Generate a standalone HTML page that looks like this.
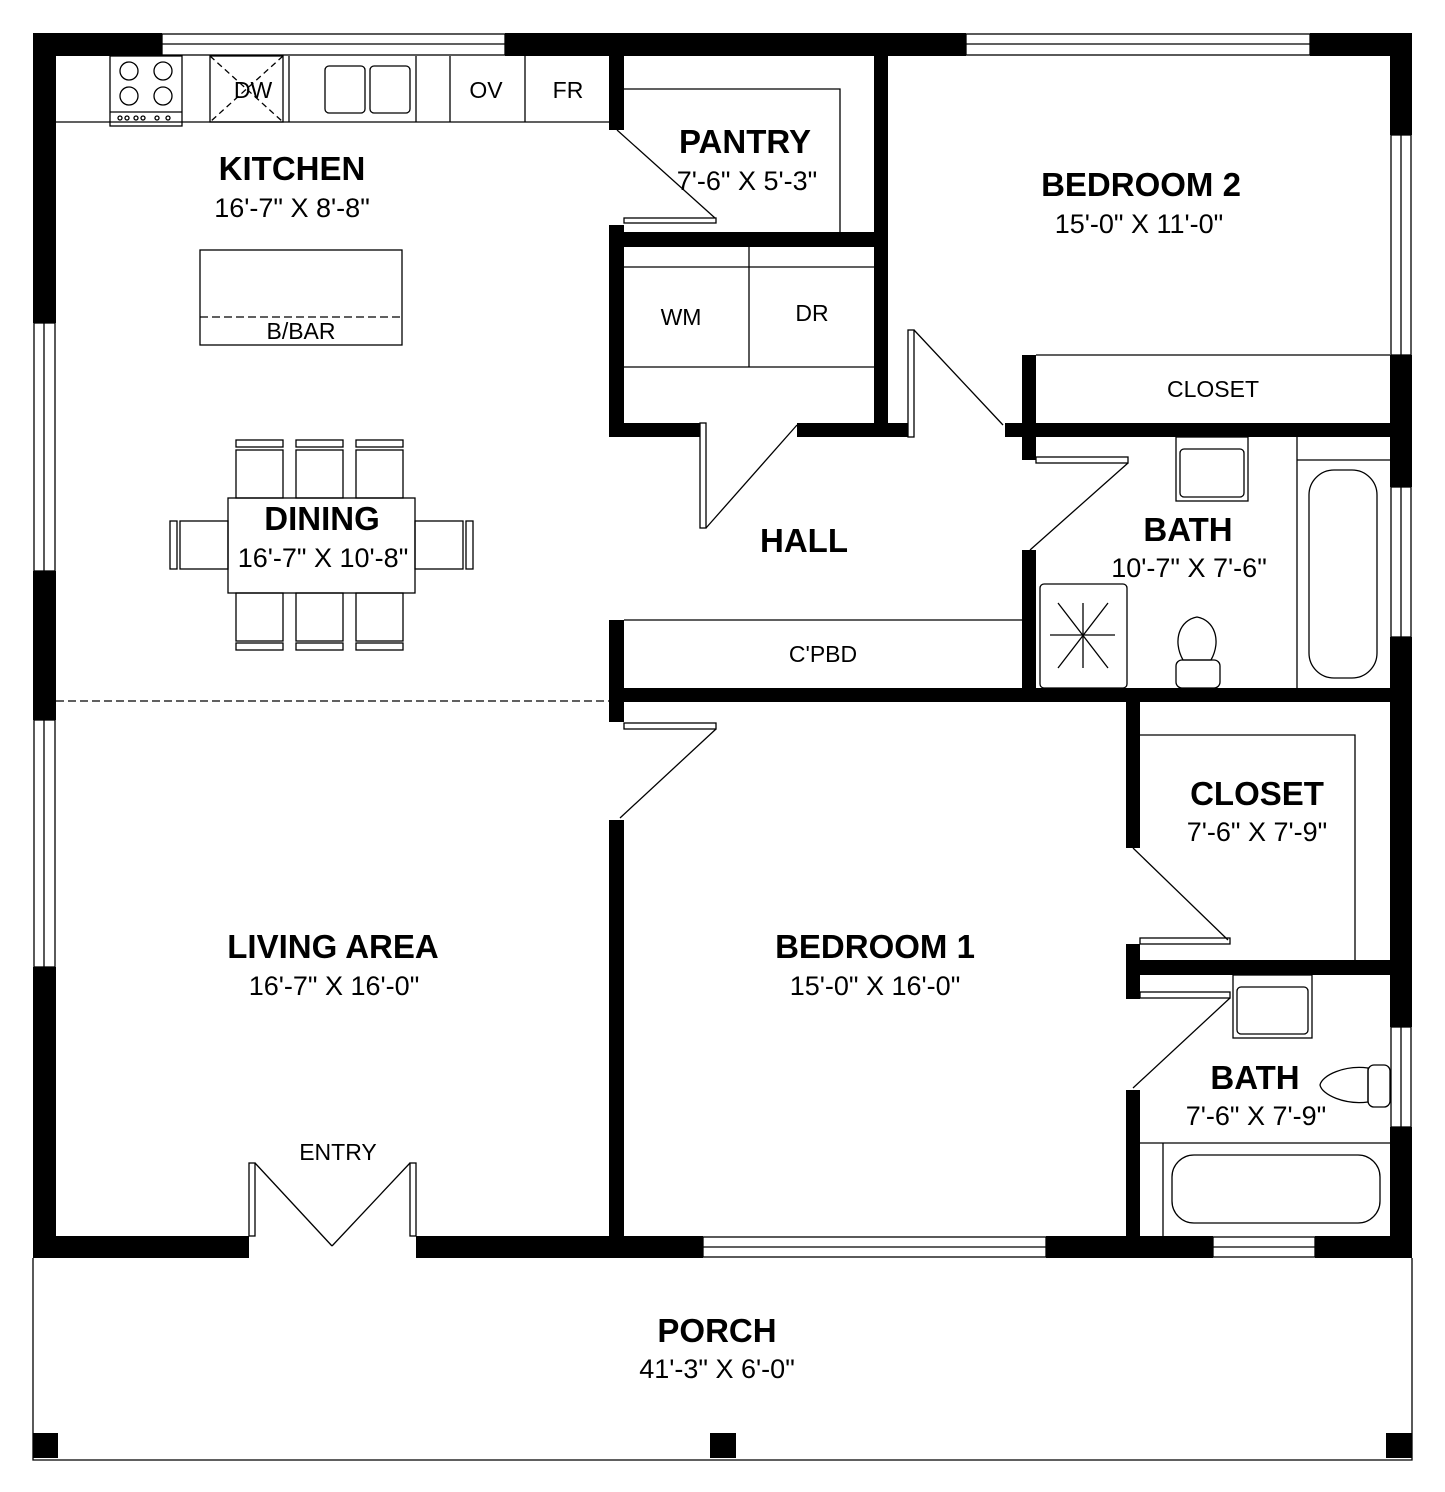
<!DOCTYPE html>
<html><head><meta charset="utf-8"><style>
html,body{margin:0;padding:0;background:#fff}
svg{display:block}
text{font-family:"Liberation Sans",Arial,sans-serif;fill:#000}
.b{font-weight:bold;font-size:33px}
.d{font-size:27px}
.s{font-size:23px}
</style></head><body>
<svg width="1445" height="1492" viewBox="0 0 1445 1492" xmlns="http://www.w3.org/2000/svg">
<g fill="#000">
<rect x="33" y="33" width="129" height="23"/>
<rect x="505" y="33" width="461" height="23"/>
<rect x="1310" y="33" width="102" height="23"/>
<rect x="33" y="33" width="23" height="290"/>
<rect x="33" y="571" width="23" height="149"/>
<rect x="33" y="967" width="23" height="291"/>
<rect x="1390" y="33" width="22" height="102"/>
<rect x="1390" y="355" width="22" height="132"/>
<rect x="1390" y="637" width="22" height="390"/>
<rect x="1390" y="1127" width="22" height="131"/>
<rect x="33" y="1236" width="216" height="22"/>
<rect x="416" y="1236" width="287" height="22"/>
<rect x="1046" y="1236" width="167" height="22"/>
<rect x="1315" y="1236" width="97" height="22"/>
<rect x="609" y="56" width="15" height="74"/>
<rect x="609" y="225" width="15" height="212"/>
<rect x="609" y="232" width="279" height="15"/>
<rect x="874" y="56" width="14" height="381"/>
<rect x="609" y="423" width="91" height="14"/>
<rect x="797" y="423" width="111" height="14"/>
<rect x="1022" y="355" width="14" height="105"/>
<rect x="1005" y="423" width="385" height="14"/>
<rect x="1022" y="550" width="14" height="152"/>
<rect x="609" y="688" width="781" height="14"/>
<rect x="609" y="620" width="15" height="82"/>
<rect x="609" y="700" width="15" height="22"/>
<rect x="609" y="820" width="15" height="438"/>
<rect x="1126" y="700" width="14" height="148"/>
<rect x="1126" y="944" width="14" height="55"/>
<rect x="1126" y="960" width="264" height="15"/>
<rect x="1126" y="1090" width="14" height="168"/>
<rect x="33" y="1433" width="25" height="25"/>
<rect x="710" y="1433" width="26" height="25"/>
<rect x="1386" y="1433" width="26" height="25"/>
</g>
<g fill="none" stroke="#000" stroke-width="1.3">
<rect x="162" y="34" width="343" height="21"/><line x1="162" y1="44" x2="505" y2="44"/>
<rect x="966" y="34" width="344" height="21"/><line x1="966" y1="44" x2="1310" y2="44"/>
<rect x="34" y="323" width="21" height="248"/><line x1="44" y1="323" x2="44" y2="571"/>
<rect x="34" y="720" width="21" height="247"/><line x1="44" y1="720" x2="44" y2="967"/>
<rect x="1391" y="135" width="20" height="220"/><line x1="1401" y1="135" x2="1401" y2="355"/>
<rect x="1391" y="487" width="20" height="150"/><line x1="1401" y1="487" x2="1401" y2="637"/>
<rect x="1391" y="1027" width="20" height="100"/><line x1="1401" y1="1027" x2="1401" y2="1127"/>
<rect x="703" y="1237" width="343" height="20"/><line x1="703" y1="1247" x2="1046" y2="1247"/>
<rect x="1213" y="1237" width="102" height="20"/><line x1="1213" y1="1247" x2="1315" y2="1247"/>
<polyline points="33,1258 33,1460 1412,1460 1412,1258"/>
<line x1="56" y1="122" x2="609" y2="122"/>
<rect x="110" y="56" width="72" height="70"/>
<line x1="110" y1="112" x2="182" y2="112"/>
<circle cx="129" cy="71" r="9"/><circle cx="163" cy="71" r="9"/>
<circle cx="129" cy="96" r="9"/><circle cx="163" cy="96" r="9"/>
<circle cx="120" cy="118" r="2"/><circle cx="127" cy="118" r="2"/><circle cx="136" cy="118" r="2"/><circle cx="143" cy="118" r="2"/><circle cx="157" cy="118" r="2"/><circle cx="168" cy="118" r="2"/>
<rect x="210" y="56" width="73" height="66"/>
<line x1="210" y1="56" x2="283" y2="122" stroke-dasharray="6,4"/>
<line x1="283" y1="56" x2="210" y2="122" stroke-dasharray="6,4"/>
<line x1="289" y1="56" x2="289" y2="122"/>
<line x1="416" y1="56" x2="416" y2="122"/>
<rect x="325" y="66" width="40" height="47" rx="4"/>
<rect x="370" y="66" width="40" height="47" rx="4"/>
<line x1="450" y1="56" x2="450" y2="122"/>
<line x1="525" y1="56" x2="525" y2="122"/>
<rect x="200" y="250" width="202" height="95"/>
<line x1="200" y1="317" x2="402" y2="317" stroke-dasharray="8,4"/>
<rect x="228" y="498" width="187" height="95"/>
<rect x="236" y="450" width="47" height="48"/><rect x="296" y="450" width="47" height="48"/><rect x="356" y="450" width="47" height="48"/>
<rect x="236" y="593" width="47" height="48"/><rect x="296" y="593" width="47" height="48"/><rect x="356" y="593" width="47" height="48"/>
<rect x="236" y="440" width="47" height="7"/><rect x="296" y="440" width="47" height="7"/><rect x="356" y="440" width="47" height="7"/>
<rect x="236" y="643" width="47" height="7"/><rect x="296" y="643" width="47" height="7"/><rect x="356" y="643" width="47" height="7"/>
<rect x="180" y="521" width="48" height="48"/><rect x="415" y="521" width="48" height="48"/>
<rect x="170" y="521" width="7" height="48"/><rect x="466" y="521" width="7" height="48"/>
<line x1="56" y1="701" x2="609" y2="701" stroke-dasharray="8,4"/>
<polyline points="624,89 840,89 840,232"/>
<line x1="617" y1="130" x2="715" y2="218"/>
<rect x="624" y="218" width="92" height="5"/>
<line x1="624" y1="267" x2="874" y2="267"/>
<line x1="624" y1="367" x2="874" y2="367"/>
<line x1="749" y1="247" x2="749" y2="367"/>
<rect x="700" y="423" width="6" height="105"/>
<line x1="706" y1="528" x2="797" y2="425"/>
<rect x="908" y="330" width="6" height="107"/>
<line x1="914" y1="330" x2="1003" y2="425"/>
<line x1="1036" y1="355" x2="1390" y2="355"/>
<rect x="1036" y="457" width="92" height="6"/>
<line x1="1128" y1="463" x2="1030" y2="550"/>
<rect x="1176" y="437" width="72" height="64"/><rect x="1180" y="449" width="64" height="48" rx="4"/>
<line x1="1297" y1="437" x2="1297" y2="688"/><line x1="1297" y1="460" x2="1390" y2="460"/>
<rect x="1309" y="470" width="68" height="208" rx="25"/>
<rect x="1040" y="584" width="87" height="104" rx="4"/>
<line x1="1058" y1="603" x2="1108" y2="668"/><line x1="1108" y1="603" x2="1058" y2="668"/><line x1="1083" y1="603" x2="1083" y2="668"/><line x1="1050" y1="635" x2="1115" y2="635"/>
<path d="M1183,660 C1172,640 1180,620 1197,617 C1214,620 1222,640 1211,660 Z"/>
<rect x="1176" y="660" width="44" height="28" rx="6"/>
<line x1="624" y1="620" x2="1022" y2="620"/>
<rect x="624" y="723" width="92" height="6"/>
<line x1="716" y1="729" x2="620" y2="818"/>
<polyline points="1140,735 1355,735 1355,960"/>
<line x1="1133" y1="848" x2="1228" y2="940"/>
<rect x="1140" y="938" width="90" height="6"/>
<rect x="1140" y="992" width="90" height="6"/>
<line x1="1230" y1="998" x2="1133" y2="1088"/>
<rect x="1233" y="975" width="79" height="63"/><rect x="1237" y="987" width="71" height="47" rx="4"/>
<line x1="1140" y1="1143" x2="1390" y2="1143"/>
<line x1="1163" y1="1143" x2="1163" y2="1236"/>
<rect x="1172" y="1155" width="208" height="68" rx="22"/>
<path d="M1368,1068 C1345,1065 1322,1075 1320,1085 C1322,1095 1345,1105 1368,1102 Z"/>
<rect x="1368" y="1065" width="22" height="42" rx="6"/>
<rect x="249" y="1163" width="6" height="73"/>
<rect x="410" y="1163" width="6" height="73"/>
<line x1="255" y1="1163" x2="332" y2="1246"/>
<line x1="410" y1="1163" x2="332" y2="1246"/>
</g>
<g text-anchor="middle">
<text class="s" x="253" y="98">DW</text>
<text class="s" x="486" y="98">OV</text>
<text class="s" x="568" y="98">FR</text>
<text class="b" x="292" y="180">KITCHEN</text>
<text class="d" x="292" y="217">16'-7" X 8'-8"</text>
<text class="s" x="301" y="339">B/BAR</text>
<text class="b" x="745" y="153">PANTRY</text>
<text class="d" x="747" y="190">7'-6" X 5'-3"</text>
<text class="b" x="1141" y="196">BEDROOM 2</text>
<text class="d" x="1139" y="233">15'-0" X 11'-0"</text>
<text class="s" x="681" y="325">WM</text>
<text class="s" x="812" y="321">DR</text>
<text class="s" x="1213" y="397">CLOSET</text>
<text class="b" x="322" y="530">DINING</text>
<text class="d" x="323" y="567">16'-7" X 10'-8"</text>
<text class="b" x="804" y="552">HALL</text>
<text class="b" x="1188" y="541">BATH</text>
<text class="d" x="1189" y="577">10'-7" X 7'-6"</text>
<text class="s" x="823" y="662">C'PBD</text>
<text class="b" x="1257" y="805">CLOSET</text>
<text class="d" x="1257" y="841">7'-6" X 7'-9"</text>
<text class="b" x="333" y="958">LIVING AREA</text>
<text class="d" x="334" y="995">16'-7" X 16'-0"</text>
<text class="b" x="875" y="958">BEDROOM 1</text>
<text class="d" x="875" y="995">15'-0" X 16'-0"</text>
<text class="b" x="1255" y="1089">BATH</text>
<text class="d" x="1256" y="1125">7'-6" X 7'-9"</text>
<text class="s" x="338" y="1160">ENTRY</text>
<text class="b" x="717" y="1342">PORCH</text>
<text class="d" x="717" y="1378">41'-3" X 6'-0"</text>
</g>
</svg>
</body></html>
